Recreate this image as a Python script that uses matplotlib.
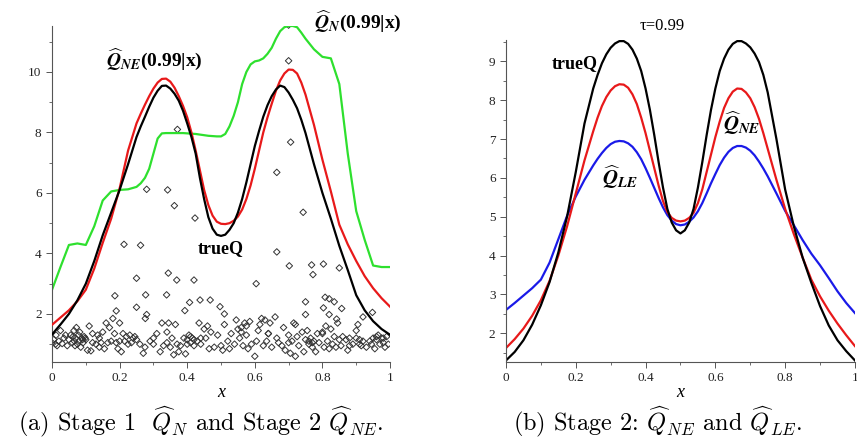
import numpy as np
import matplotlib
matplotlib.use('Agg')
import matplotlib.pyplot as plt

plt.rcParams['font.family'] = ['Liberation Serif', 'DejaVu Serif']
plt.rcParams['mathtext.fontset'] = 'cm'

# x positions where the curves were read: 0.025 steps at the ends, 0.0125 in the middle
xs = ([i * 0.025 for i in range(11)] + [0.25 + i * 0.0125 for i in range(1, 40)]
      + [0.75 + i * 0.025 for i in range(11)])

# ---- panel (a) ----
trueq_a = [1.32, 1.65, 2.0, 2.45, 3.0, 3.75, 4.6, 5.35, 6.1, 6.95, 7.85,
           8.2, 8.52, 8.85, 9.15, 9.38, 9.54, 9.55, 9.45, 9.28, 9.05, 8.72, 8.3, 7.85, 7.3, 6.5, 5.8, 5.2, 4.82, 4.62,
           4.58,
           4.62, 4.78, 5.0, 5.35, 5.8, 6.35, 6.95, 7.55, 8.05, 8.52, 8.9, 9.2, 9.42, 9.55, 9.5, 9.32, 9.08, 8.8, 8.42,
           7.98, 6.95, 6.0, 5.15, 4.25, 3.45, 2.62, 2.12, 1.76, 1.5, 1.31]
qne_a = [1.64, 1.88, 2.12, 2.42, 2.8, 3.5, 4.35, 5.15, 6.15, 7.4, 8.3,
         8.62, 8.92, 9.2, 9.45, 9.65, 9.77, 9.78, 9.68, 9.48, 9.2, 8.88, 8.5, 8.0, 7.4, 6.75, 6.1, 5.6, 5.25, 5.05,
         4.98,
         4.97, 5.0, 5.08, 5.22, 5.45, 5.8, 6.25, 6.8, 7.4, 8.0, 8.5, 8.95, 9.38, 9.72, 9.95, 10.08, 10.07, 9.95, 9.65,
         9.25, 8.25, 7.1, 6.05, 4.95, 4.3, 3.75, 3.25, 2.85, 2.52, 2.24]
qn_a = [2.8, 3.55, 4.28, 4.33, 4.28, 4.9, 5.75, 6.05, 6.1, 6.12, 6.2,
        6.32, 6.5, 6.8, 7.3, 7.8, 7.97, 7.98, 7.98, 7.98, 7.98, 7.98, 7.97, 7.96, 7.95, 7.93, 7.91, 7.89, 7.88, 7.87,
        7.87,
        7.95, 8.2, 8.55, 9.0, 9.6, 10.0, 10.25, 10.35, 10.38, 10.45, 10.6, 10.8, 11.1, 11.35, 11.48, 11.52, 11.52,
        11.48, 11.3,
        11.1, 10.75, 10.5, 10.45, 9.6, 7.3, 5.4, 4.45, 3.6, 3.55, 3.55]

# sample points (panel a)
pts_x = [0.0, 0.01, 0.012, 0.02, 0.025, 0.03, 0.035, 0.045, 0.05, 0.055, 0.06, 0.065, 0.068, 0.07, 0.072, 0.075, 0.078,
         0.08, 0.085, 0.088, 0.09, 0.095, 0.098, 0.1, 0.105, 0.11, 0.115, 0.12, 0.13, 0.135, 0.14, 0.145, 0.15, 0.155,
         0.16, 0.165, 0.17, 0.175, 0.18, 0.185, 0.19, 0.195, 0.2, 0.205, 0.21, 0.215, 0.22, 0.225, 0.23, 0.235, 0.24,
         0.245, 0.26, 0.27, 0.275, 0.29, 0.3, 0.31, 0.32, 0.325, 0.33, 0.34, 0.345, 0.35, 0.355, 0.36, 0.365, 0.37,
         0.375, 0.38, 0.39, 0.395, 0.4, 0.405, 0.41, 0.415, 0.42, 0.43, 0.435, 0.44, 0.45, 0.455, 0.46, 0.465, 0.47,
         0.48, 0.49, 0.5, 0.505, 0.51, 0.52, 0.525, 0.53, 0.54, 0.545, 0.55, 0.555, 0.56, 0.565, 0.57, 0.575, 0.58,
         0.585, 0.59, 0.6, 0.605, 0.61, 0.615, 0.62, 0.625, 0.63, 0.635, 0.64, 0.645, 0.65, 0.66, 0.665, 0.67, 0.68,
         0.685, 0.69, 0.7, 0.705, 0.71, 0.715, 0.72, 0.725, 0.73, 0.74, 0.745, 0.75, 0.755, 0.76, 0.765, 0.77, 0.775,
         0.78, 0.785, 0.79, 0.8, 0.805, 0.81, 0.815, 0.82, 0.825, 0.83, 0.835, 0.84, 0.845, 0.85, 0.855, 0.86, 0.87,
         0.875, 0.88, 0.89, 0.9, 0.905, 0.91, 0.915, 0.92, 0.93, 0.94, 0.945, 0.95, 0.955, 0.96, 0.965, 0.97, 0.975,
         0.98, 0.985, 0.99, 0.995,
         0.005, 0.015, 0.04, 0.062, 0.066, 0.082, 0.092, 0.12, 0.14, 0.2, 0.25, 0.3, 0.34, 0.4, 0.41, 0.42, 0.44,
         0.56, 0.575, 0.64, 0.7, 0.72, 0.76, 0.77, 0.8, 0.88, 0.9, 0.91, 0.96, 0.98,
         0.70, 0.70, 0.371, 0.706, 0.665, 0.28, 0.342, 0.362, 0.423, 0.743, 0.213, 0.262, 0.25, 0.344, 0.369, 0.42,
         0.277, 0.186, 0.339, 0.25, 0.19, 0.28, 0.276, 0.393, 0.407, 0.438, 0.468, 0.497, 0.51, 0.604, 0.665, 0.702,
         0.768, 0.772, 0.803, 0.85, 0.75, 0.75, 0.808, 0.82, 0.835, 0.857, 0.803, 0.842, 0.82, 0.92, 0.948]
pts_y = [1.05, 1.0, 1.3, 1.1, 1.45, 1.02, 1.2, 0.95, 1.15, 1.3, 1.05, 1.45, 0.95, 1.2, 1.55, 1.0, 1.3,
         1.1, 0.9, 1.2, 1.15, 1.25, 1.2, 1.15, 0.8, 1.6, 0.78, 1.05, 1.0, 1.3, 0.9, 1.05, 1.4, 0.85,
         1.7, 1.05, 1.55, 1.1, 1.85, 1.35, 1.05, 0.85, 1.7, 0.75, 1.35, 1.1, 1.25, 1.0, 1.3, 1.05, 1.2,
         1.25, 1.0, 0.7, 0.9, 1.1, 1.2, 1.35, 0.75, 1.7, 0.95, 1.4, 1.7, 0.9, 1.2, 0.65, 1.65, 1.0,
         0.75, 0.95, 1.2, 0.68, 1.15, 1.3, 1.05, 1.2, 0.95, 1.1, 1.7, 1.0, 1.5, 1.2, 1.6, 0.85, 1.4,
         0.9, 1.3, 0.95, 0.8, 1.65, 1.1, 0.85, 1.35, 1.0, 1.8, 1.5, 1.2, 1.55, 0.95, 1.7, 1.3, 0.85,
         1.75, 1.0, 0.6, 1.1, 1.45, 1.65, 1.85, 0.95, 1.8, 1.1, 1.35, 1.7, 0.9, 1.9, 1.2, 1.05, 0.95,
         1.55, 0.8, 1.3, 0.7, 1.1, 1.7, 0.6, 1.25, 0.95, 1.4, 0.75, 1.15, 1.45, 1.0, 1.2, 0.9, 1.1,
         0.75, 1.35, 1.05, 1.4, 0.9, 1.6, 1.1, 0.85, 1.5, 1.0, 1.25, 0.9, 1.7, 1.15, 0.95, 1.25, 1.15,
         0.8, 1.2, 1.0, 1.45, 1.65, 1.15, 0.95, 1.1, 0.9, 1.1, 1.0, 1.2, 0.85, 1.15, 1.3, 1.0, 1.2,
         1.05, 0.9, 1.25, 1.0,
         1.15, 0.95, 1.3, 1.25, 1.1, 1.4, 1.05, 1.35, 1.2, 1.1, 1.15, 1.0, 1.05, 1.0, 1.25, 1.15, 1.2,
         1.4, 1.6, 1.35, 1.05, 1.65, 1.1, 1.05, 1.35, 0.95, 1.2, 1.0, 1.25, 1.2,
         11.55, 10.37, 8.1, 7.68, 6.68, 6.12, 6.1, 5.58, 5.17, 5.36, 4.3, 4.27, 3.18, 3.35, 3.12, 3.12,
         2.63, 2.6, 2.63, 2.22, 2.1, 1.98, 1.85, 2.11, 2.38, 2.46, 2.46, 2.24, 2.0, 3.0, 4.05, 3.59,
         3.62, 3.3, 3.65, 3.52, 2.4, 1.98, 2.55, 2.5, 2.4, 2.18, 2.2, 1.83, 1.98, 1.9, 2.05]

# ---- panel (b) ----
trueq_b = [1.3, 1.52, 1.82, 2.22, 2.72, 3.32, 4.08, 5.0, 6.15, 7.4, 8.3,
           8.65, 8.95, 9.18, 9.35, 9.46, 9.52, 9.52, 9.45, 9.3, 9.07, 8.75, 8.3, 7.75, 7.1, 6.4, 5.75, 5.2, 4.85, 4.65,
           4.57,
           4.65, 4.85, 5.2, 5.75, 6.4, 7.1, 7.75, 8.3, 8.75, 9.07, 9.3, 9.45, 9.52, 9.52, 9.46, 9.36, 9.2, 8.98, 8.65,
           8.2, 7.0, 5.7, 4.75, 3.95, 3.3, 2.7, 2.2, 1.82, 1.54, 1.3]
qne_b = [1.62, 1.85, 2.12, 2.45, 2.85, 3.35, 4.0, 4.75, 5.6, 6.45, 7.2,
         7.55, 7.85, 8.08, 8.25, 8.36, 8.41, 8.4, 8.32, 8.15, 7.9, 7.55, 7.15, 6.7, 6.25, 5.8, 5.4, 5.12, 4.97, 4.9,
         4.88,
         4.9, 4.97, 5.1, 5.35, 5.7, 6.15, 6.6, 7.05, 7.45, 7.8, 8.05, 8.22, 8.3, 8.29, 8.2, 8.05, 7.82, 7.52, 7.15,
         6.75, 5.95, 5.2, 4.55, 3.95, 3.38, 2.95, 2.58, 2.25, 1.95, 1.67]
qle_b = [2.6, 2.78, 2.97, 3.16, 3.38, 3.82, 4.42, 5.02, 5.52, 5.95, 6.32,
         6.49, 6.64, 6.77, 6.87, 6.93, 6.95, 6.94, 6.89, 6.8, 6.66, 6.48, 6.25, 6.0, 5.74, 5.48, 5.24, 5.04, 4.9, 4.81,
         4.78,
         4.8, 4.87, 4.98, 5.14, 5.35, 5.6, 5.86, 6.1, 6.33, 6.52, 6.67, 6.77, 6.82, 6.82, 6.78, 6.7, 6.58, 6.42, 6.24,
         6.04, 5.6, 5.15, 4.78, 4.4, 4.05, 3.75, 3.42, 3.08, 2.78, 2.52]

green = '#2ee02e'
red = '#e8191a'
blue = '#1a1ae8'
lw = 1.6

fig = plt.figure(figsize=(8.57, 4.43), dpi=100)
ax1 = fig.add_axes([0.0607, 0.1835, 0.3944, 0.7578])
ax2 = fig.add_axes([0.5904, 0.1828, 0.4072, 0.727])

for ax in (ax1, ax2):
    for s in ('top', 'right'):
        ax.spines[s].set_visible(False)
    for s in ('left', 'bottom'):
        ax.spines[s].set_color('#555555')
        ax.spines[s].set_linewidth(0.8)
    ax.set_xlim(0, 1)
    ax.set_xticks([0, 0.2, 0.4, 0.6, 0.8, 1])
    ax.set_xticklabels(['0', '0.2', '0.4', '0.6', '0.8', '1'])
    ax.set_xticks(np.arange(0.1, 1.0, 0.2), minor=True)
    ax.tick_params(which='major', length=4, width=0.7, colors='#555555', labelcolor='#222222', labelsize=9.5)
    ax.tick_params(which='minor', length=2.5, width=0.6, colors='#555555')
    ax.set_xlabel('x', fontstyle='italic', fontsize=13, labelpad=0)

# (a)
ax1.scatter(pts_x, pts_y, marker='D', s=11, facecolors='none', edgecolors='#333333', linewidths=0.7, zorder=1)
ax1.plot(xs, qn_a, color=green, lw=lw, zorder=2)
ax1.plot(xs, qne_a, color=red, lw=lw, zorder=3)
ax1.plot(xs, trueq_a, color='black', lw=lw, zorder=4)
ax1.set_ylim(0.42, 11.52)
ax1.set_yticks([2, 4, 6, 8, 10])
ax1.set_yticks([1, 3, 5, 7, 9, 11], minor=True)
ax1.text(0.16, 10.42, r'$\widehat{\mathbfit{Q}}_{\mathbfit{NE}}$(0.99|x)', fontsize=14, fontweight='bold',
         math_fontfamily='stix', va='center', ha='left')
ax1.text(0.776, 11.68, r'$\widehat{\mathbfit{Q}}_{\mathbfit{N}}$(0.99|x)', fontsize=14, fontweight='bold',
         math_fontfamily='stix', va='center', ha='left', clip_on=False)
ax1.text(0.5, 4.15, 'trueQ', fontsize=13, fontweight='bold', va='center', ha='center')

# (b)
ax2.plot(xs, qle_b, color=blue, lw=lw)
ax2.plot(xs, qne_b, color=red, lw=lw)
ax2.plot(xs, trueq_b, color='black', lw=lw)
ax2.set_ylim(1.26, 9.55)
ax2.set_yticks([2, 3, 4, 5, 6, 7, 8, 9])
ax2.set_yticks(np.arange(1.5, 9.6, 1.0), minor=True)
ax2.text(0.198, 8.95, 'trueQ', fontsize=13, fontweight='bold', va='center', ha='center')
ax2.text(0.448, 9.9, 'τ=0.99', fontsize=12, va='center', ha='center', clip_on=False)
ax2.text(0.622, 7.41, r'$\widehat{\mathbfit{Q}}_{\mathbfit{NE}}$', fontsize=15, math_fontfamily='stix',
         va='center', ha='left')
ax2.text(0.275, 6.03, r'$\widehat{\mathbfit{Q}}_{\mathbfit{LE}}$', fontsize=15, math_fontfamily='stix',
         va='center', ha='left')

fig.text(0.234, 0.046, r'(a) Stage 1  $\widehat{Q}_N$ and Stage 2 $\widehat{Q}_{NE}$.',
         family='cmr10', math_fontfamily='cm', fontsize=17.5, ha='center', va='center')
fig.text(0.768, 0.046, r'(b) Stage 2: $\widehat{Q}_{NE}$ and $\widehat{Q}_{LE}$.',
         family='cmr10', math_fontfamily='cm', fontsize=17.5, ha='center', va='center')

fig.savefig('out.png', dpi=100)
